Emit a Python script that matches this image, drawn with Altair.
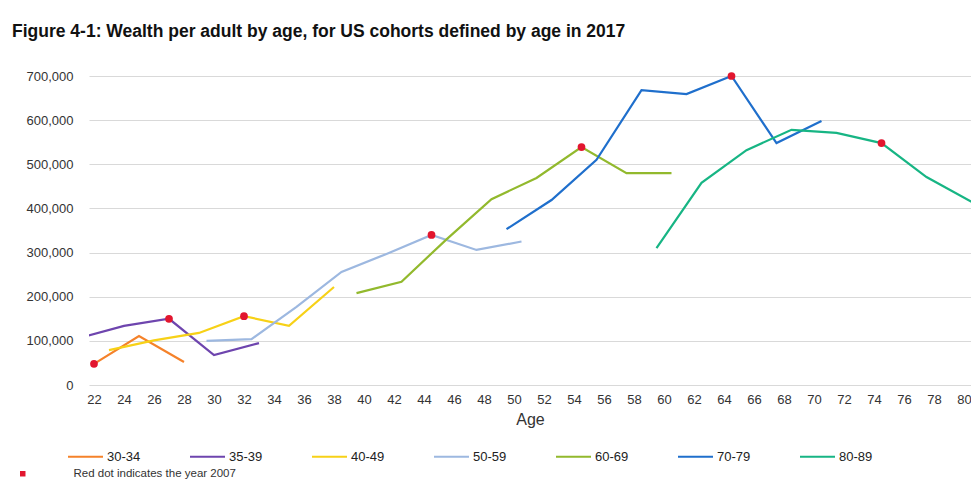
import altair as alt
import pandas as pd

# Cohorts (age group in 2017)
cohorts = ["30-34", "35-39", "40-49", "50-59", "60-69", "70-79", "80-89"]
colors = ["#F5822A", "#6E45AE", "#F7D117", "#9DB8E0", "#92B92D", "#1F6FCC", "#17B584"]

# ages at survey points and wealth per adult
ages_30_34 = [22, 25, 28]
vals_30_34 = [48000, 111000, 52000]
ages_35_39 = [21, 24, 27, 30, 33]
vals_35_39 = [106000, 134000, 150000, 68000, 95000]
ages_40_49 = [23, 26, 29, 32, 35, 38]
vals_40_49 = [79000, 101000, 118000, 156000, 134000, 222000]
ages_50_59 = [29.5, 32.5, 35.5, 38.5, 41.5, 44.5, 47.5, 50.5]
vals_50_59 = [100000, 104000, 177000, 256000, 297000, 340000, 306000, 325000]
ages_60_69 = [39.5, 42.5, 45.5, 48.5, 51.5, 54.5, 57.5, 60.5]
vals_60_69 = [208000, 234000, 330000, 421000, 469000, 539000, 480000, 480000]
ages_70_79 = [49.5, 52.5, 55.5, 58.5, 61.5, 64.5, 67.5, 70.5]
vals_70_79 = [353000, 419000, 510000, 668000, 659000, 700000, 548000, 598000]
ages_80_89 = [59.5, 62.5, 65.5, 68.5, 71.5, 74.5, 77.5, 80.5]
vals_80_89 = [310000, 458000, 532000, 578000, 571000, 548000, 471000, 415000]

# age at which each cohort was observed in 2007 (red dots)
dot_ages = [22, 27, 32, 44.5, 54.5, 64.5, 74.5]

series_ages = [ages_30_34, ages_35_39, ages_40_49, ages_50_59, ages_60_69, ages_70_79, ages_80_89]
series_vals = [vals_30_34, vals_35_39, vals_40_49, vals_50_59, vals_60_69, vals_70_79, vals_80_89]

rows = []
for c, a_list, v_list, d in zip(cohorts, series_ages, series_vals, dot_ages):
    for a, v in zip(a_list, v_list):
        rows.append({"cohort": c, "age": a, "value": v, "is2007": a == d,
                     "note": "Red dot indicates the year 2007"})
df = pd.DataFrame(rows)

FONT = "Liberation Sans"

x = alt.X("age:Q",
          scale=alt.Scale(domain=[21.667, 80.467], nice=False, zero=False),
          axis=alt.Axis(values=list(range(22, 81, 2)), grid=False, ticks=False, domain=False,
                        labelPadding=8, labelFontSize=13, labelColor="#333333", labelFlush=False,
                        labelOverlap=False, title="Age", titlePadding=5, titleFontSize=16,
                        titleFontWeight="normal", titleColor="#333333"))
y = alt.Y("value:Q",
          scale=alt.Scale(domain=[0, 700000], nice=False),
          axis=alt.Axis(values=list(range(0, 700001, 100000)), format=",.0f", title=None,
                        ticks=False, domain=False, labelPadding=16, labelFontSize=13,
                        labelColor="#333333", gridColor="#D9D9D9", gridWidth=1))

lines = alt.Chart(df).mark_line(strokeWidth=2.2, clip=True).encode(
    x=x, y=y,
    color=alt.Color("cohort:N", scale=alt.Scale(domain=cohorts, range=colors),
                    legend=alt.Legend(orient="none", legendX=-22, legendY=362, direction="horizontal",
                                      columns=7, title=None, symbolType="stroke", symbolSize=1225,
                                      symbolStrokeWidth=2, labelOffset=3, labelFontSize=13,
                                      labelColor="#222222", columnPadding=45)),
)

dots = alt.Chart(df).transform_filter("datum.is2007").mark_point(filled=True, size=60, opacity=1).encode(
    x=x, y=y,
    fill=alt.Fill("note:N", scale=alt.Scale(range=["#E2162F"]),
                  legend=alt.Legend(orient="none", legendX=-72, legendY=392, title=None,
                                    symbolType="square", symbolSize=30, labelOffset=45,
                                    labelFontSize=11.5, labelLimit=400, labelColor="#333333")),
)

chart = alt.layer(lines, dots).properties(
    width=882, height=309,
    title=alt.TitleParams("Figure 4-1: Wealth per adult by age, for US cohorts defined by age in 2017",
                          anchor="start", frame="group", dx=-77, offset=30, fontSize=17.5,
                          fontWeight="bold", color="#111111", font=FONT),
    autosize=alt.AutoSizeParams(type="none"),
    padding={"left": 81, "top": 68, "right": 0, "bottom": 100},
).configure(font=FONT).configure_view(stroke=None)

chart.save("out.html", embed_options={"renderer": "svg", "actions": False})
